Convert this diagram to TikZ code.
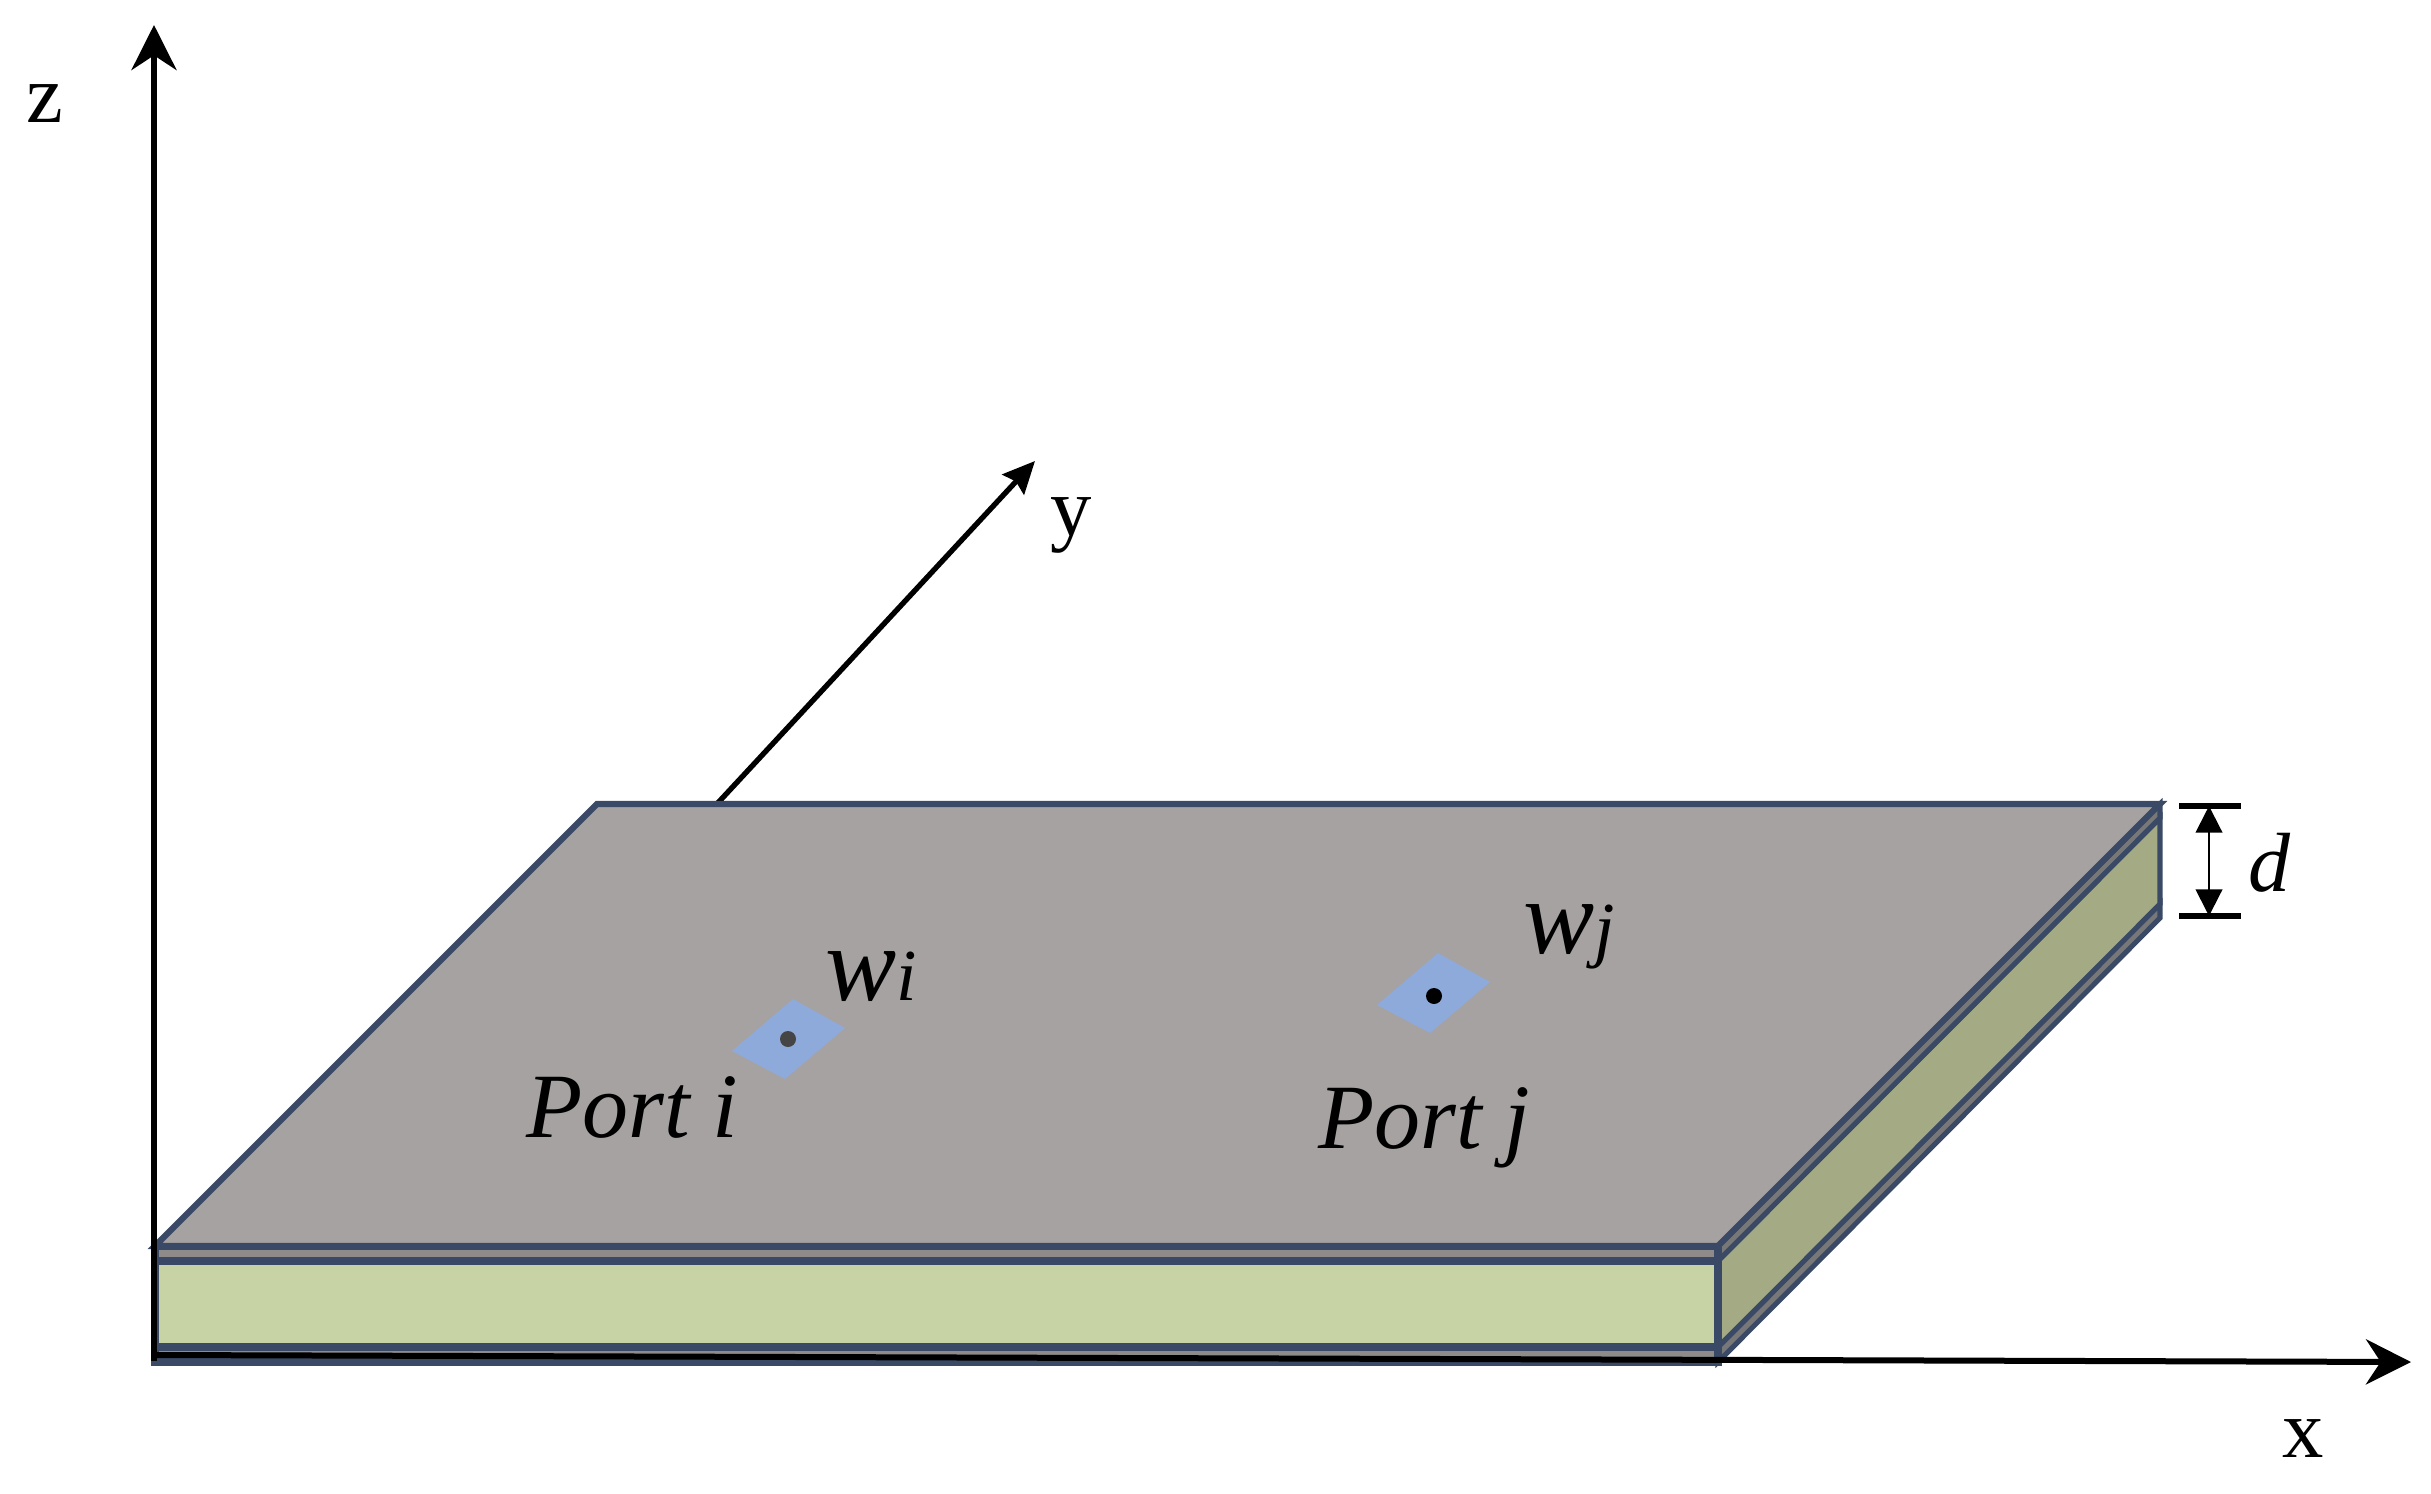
\documentclass[tikz,border=0pt]{standalone}
\usepackage{fontspec}
\setmainfont{Liberation Serif}
\usepackage{xcolor}
\usetikzlibrary{arrows.meta}
\usetikzlibrary{positioning}
\definecolor{edgenavy}{RGB}{58,74,102}
\definecolor{plategrey}{RGB}{166,162,161}
\definecolor{rimfront}{RGB}{142,139,138}
\definecolor{rimside}{RGB}{120,120,120}
\definecolor{corefront}{RGB}{200,211,165}
\definecolor{coreside}{RGB}{163,170,132}
\definecolor{portblue}{RGB}{142,170,219}
\tikzset{
  plateedge/.style={draw=edgenavy,line width=4.6pt,line join=miter},
  frontedge/.style={draw=edgenavy,line width=5.4pt,line join=miter},
  sideedge/.style={draw=edgenavy,line width=3.8pt,line join=miter},
  axisline/.style={line width=4.5pt,-{Stealth[length=33.75pt,width=33.75pt,inset=11pt]}},
  txtnode/.style={anchor=base west,inner sep=0pt,font=\fontsize{#1}{#1}\selectfont\itshape},
  axisnode/.style={anchor=base,inner sep=0pt,font=\fontsize{62}{62}\selectfont},
}
\begin{document}
\begin{tikzpicture}[x=0.75pt,y=0.75pt,yscale=-1,xscale=1]
  \useasboundingbox (0,0) rectangle (2431,1494); %same size as the reference
  % Axis ends
  \coordinate (origin) at (154,1361);
  \coordinate (xstart) at (154,1355);
  \coordinate (ztip) at (154,25);
  \coordinate (xtip) at (2411,1362);
  \coordinate (ystart) at (715,806);
  \coordinate (ytip) at (1035,461);
  % y axis goes behind the plate
  \draw [line width=4pt,-{Stealth[length=24pt,width=22pt,inset=3pt]}] (ystart) -- (ytip);

  % Bottom layer
  \draw [sideedge,fill=rimside] (1718,1347) -- (2160,904) -- (2160,918) -- (1718,1362) -- cycle;
  \draw [frontedge,fill=rimfront] (155,1347) -- (1718,1347) -- (1718,1362) -- (155,1362) -- cycle;
  % Core layer
  \draw [sideedge,fill=coreside] (1718,1261) -- (2160,818) -- (2160,904) -- (1718,1347) -- cycle;
  \draw [frontedge,fill=corefront] (155,1261) -- (1718,1261) -- (1718,1347) -- (155,1347) -- cycle;
  % Top layer
  \draw [sideedge,fill=rimside] (1718,1246) -- (2160,804) -- (2160,818) -- (1718,1261) -- cycle;
  \draw [frontedge,fill=rimfront] (155,1246) -- (1718,1246) -- (1718,1261) -- (155,1261) -- cycle;
  \draw [plateedge,fill=plategrey] (155,1246) -- (597,804) -- (2160,804) -- (1718,1246) -- cycle;

  % Ports
  \fill [portblue] (793,999) -- (845,1028) -- (785,1079) -- (732,1051) -- cycle;
  \fill [portblue] (1438,953) -- (1490,982) -- (1430,1033) -- (1377,1005) -- cycle;
  \fill [black!73] (788,1039) circle (8);
  \fill [black] (1434,996) circle (8);

  % x and z axes
  \draw [axisline] (origin) -- (ztip);
  \draw [axisline] (xstart) -- (xtip);

  % Thickness marker
  \coordinate (dtop) at (2209,806);
  \coordinate (dbottom) at (2209,916);
  \draw [line width=5.2pt] (2179,806) -- (2241,806);
  \draw [line width=5.2pt] (2179,916) -- (2241,916);
  \draw [line width=1.5pt,{Triangle[length=20pt,width=20pt]}-{Triangle[length=20pt,width=20pt]}] (dtop) -- (dbottom);

  % Text Node
  \node (zlabel) [axisnode] at (45,123) {z};
  % Text Node
  \node (xlabel) [axisnode] at (2303,1457) {x};
  % Text Node
  \node (ylabel) [axisnode] at (1071,535) {y};
  % Text Node
  \node (dlabel) [txtnode=63] at (2248,891) {d};
  % Text Node
  \node (porti) [txtnode=69] at (526,1137) {Port i};
  % Text Node
  \node (portj) [txtnode=69] at (1318,1148) {Port j};
  % Text Node
  \node (wi) [txtnode=80] at (825,1000) {w\fontsize{55}{55}\selectfont i};
  % Text Node
  \node (wj) [txtnode=80] at (1523,953) {w\fontsize{55}{55}\selectfont j};
\end{tikzpicture}
\end{document}
